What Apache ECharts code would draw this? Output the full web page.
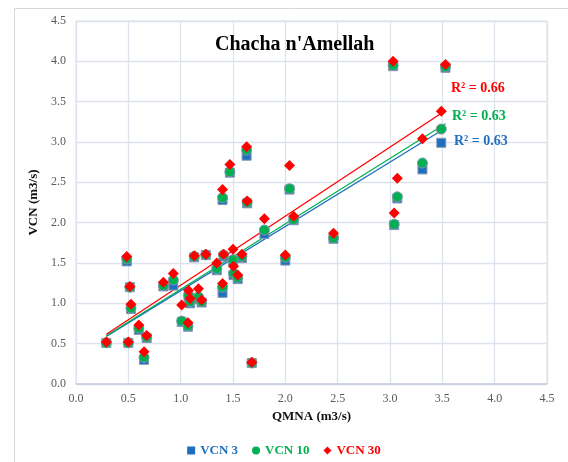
<!DOCTYPE html>
<html><head><meta charset="utf-8">
<script src="https://cdn.jsdelivr.net/npm/echarts@6/dist/echarts.min.js"></script>
<style>html,body{margin:0;padding:0;background:#fff}#c{width:568px;height:462px}</style>
</head><body><div id="c"></div>
<script>
var qmna  = [0.29,0.485,0.50,0.515,0.525,0.60,0.65,0.675,0.835,0.93,1.01,1.07,1.075,1.09,1.13,1.17,1.20,1.24,1.345,1.40,1.40,1.41,1.47,1.50,1.505,1.545,1.585,1.63,1.635,1.68,1.80,2.00,2.04,2.08,2.46,3.03,3.04,3.07,3.31,3.49,3.53];
var vcn3  = [0.51,1.52,0.51,1.20,0.93,0.67,0.30,0.57,1.21,1.22,0.77,0.71,1.08,1.00,1.57,1.05,1.01,1.60,1.41,2.28,1.13,1.58,2.62,1.52,1.35,1.30,1.56,2.83,2.24,0.26,1.86,1.53,2.41,2.03,1.80,3.94,1.97,2.30,2.66,2.99,3.92];
var vcn10 = [0.51,1.55,0.51,1.20,0.94,0.69,0.33,0.58,1.22,1.29,0.78,0.72,1.10,1.02,1.58,1.08,1.02,1.60,1.43,2.31,1.20,1.60,2.63,1.54,1.37,1.32,1.58,2.90,2.25,0.26,1.91,1.57,2.42,2.04,1.81,3.95,1.98,2.32,2.74,3.16,3.93];
var vcn30 = [0.52,1.58,0.52,1.21,0.99,0.73,0.40,0.60,1.26,1.37,0.98,0.76,1.16,1.06,1.59,1.18,1.04,1.61,1.50,2.41,1.245,1.61,2.72,1.67,1.46,1.35,1.61,2.94,2.27,0.27,2.05,1.60,2.71,2.08,1.87,4.00,2.12,2.55,3.04,3.38,3.96];
var seriesNames = ['VCN 3','VCN 10','VCN 30'];
var r2Labels = ['R\u00b2 = 0.63','R\u00b2 = 0.63','R\u00b2 = 0.66'];
var axisTicks = [0,0.5,1,1.5,2,2.5,3,3.5,4,4.5];
var titleText = "Chacha n'Amellah";

var colors = ['#1F6FC0','#00B050','#FF0000'];
var FONT = 'Liberation Serif';
function pairs(ys){return qmna.map(function(x,i){return [x,ys[i]];});}
function fit(ys){
  var n=qmna.length,sx=0,sy=0,sxx=0,sxy=0;
  for(var i=0;i<n;i++){sx+=qmna[i];sy+=ys[i];sxx+=qmna[i]*qmna[i];sxy+=qmna[i]*ys[i];}
  var b=(n*sxy-sx*sy)/(n*sxx-sx*sx), a=(sy-b*sx)/n;
  var xmin=Math.min.apply(null,qmna), xmax=Math.max.apply(null,qmna);
  return [[xmin,a+b*xmin],[xmax,a+b*xmax]];
}
var all=[vcn3,vcn10,vcn30];
var symbols=['rect','circle','diamond'];
var sizes=[9,10,11];
var series=[];
all.forEach(function(ys,k){
  series.push({name:seriesNames[k],type:'scatter',data:pairs(ys),symbol:symbols[k],symbolSize:sizes[k],
    itemStyle:{color:colors[k],borderColor:k<2?'#8497b0':colors[k],borderWidth:k<2?1:0,opacity:1},z:2+k});
});
all.forEach(function(ys,k){
  series.push({name:'trend'+k,type:'line',data:fit(ys),showSymbol:false,symbol:'none',
    lineStyle:{color:colors[k],width:1.3},z:1,silent:true});
});
var chart=echarts.init(document.getElementById('c'),null,{renderer:'canvas'});
chart.setOption({
  animation:false,
  backgroundColor:'#fff',
  grid:{left:76,top:21,right:21,bottom:78,show:true,borderColor:'#dde3ec',borderWidth:1,containLabel:false},
  xAxis:{type:'value',min:0,max:4.5,interval:0.5,
    name:'QMNA (m3/s)',nameLocation:'middle',nameGap:25,
    nameTextStyle:{fontFamily:FONT,fontWeight:'bold',fontSize:13,color:'#111'},
    axisLine:{show:true,lineStyle:{color:'#c5cede',width:1.5}},axisTick:{show:false},
    axisLabel:{fontFamily:FONT,fontSize:12,color:'#595959',margin:9,formatter:function(v){return v.toFixed(1);}},
    splitLine:{show:true,lineStyle:{color:'#dde3ec',width:1.3}}},
  yAxis:{type:'value',min:0,max:4.5,interval:0.5,
    name:'VCN (m3/s)',nameLocation:'middle',nameGap:30,nameRotate:90,
    nameTextStyle:{fontFamily:FONT,fontWeight:'bold',fontSize:13,color:'#111'},
    axisLine:{show:false},axisTick:{show:false},
    axisLabel:{fontFamily:FONT,fontSize:12,color:'#595959',margin:10,formatter:function(v){return v.toFixed(1);}},
    splitLine:{show:true,lineStyle:{color:'#dde3ec',width:1.3}}},
  legend:{bottom:0,left:'center',itemWidth:8,itemHeight:8,itemGap:14,
    data:seriesNames.map(function(n,k){return {name:n,icon:symbols[k],itemStyle:{borderWidth:0},textStyle:{color:colors[k]}};}),
    textStyle:{fontFamily:FONT,fontWeight:'bold',fontSize:13},
    selectedMode:false},
  graphic:[
    {type:'rect',left:12,top:6,shape:{width:600,height:500},style:{fill:'none',stroke:'#d9d9d9',lineWidth:1},silent:true,z:-10},
    {type:'text',left:215,top:35,z:100,style:{text:titleText,font:'bold 20px "Liberation Serif"',fill:'#000'}},
    {type:'text',left:451,top:81,z:100,style:{text:r2Labels[2],font:'bold 14px "Liberation Serif"',fill:colors[2]}},
    {type:'text',left:452,top:109,z:100,style:{text:r2Labels[1],font:'bold 14px "Liberation Serif"',fill:colors[1]}},
    {type:'text',left:454,top:134,z:100,style:{text:r2Labels[0],font:'bold 14px "Liberation Serif"',fill:colors[0]}}
  ],
  series:series
});
</script></body></html>
